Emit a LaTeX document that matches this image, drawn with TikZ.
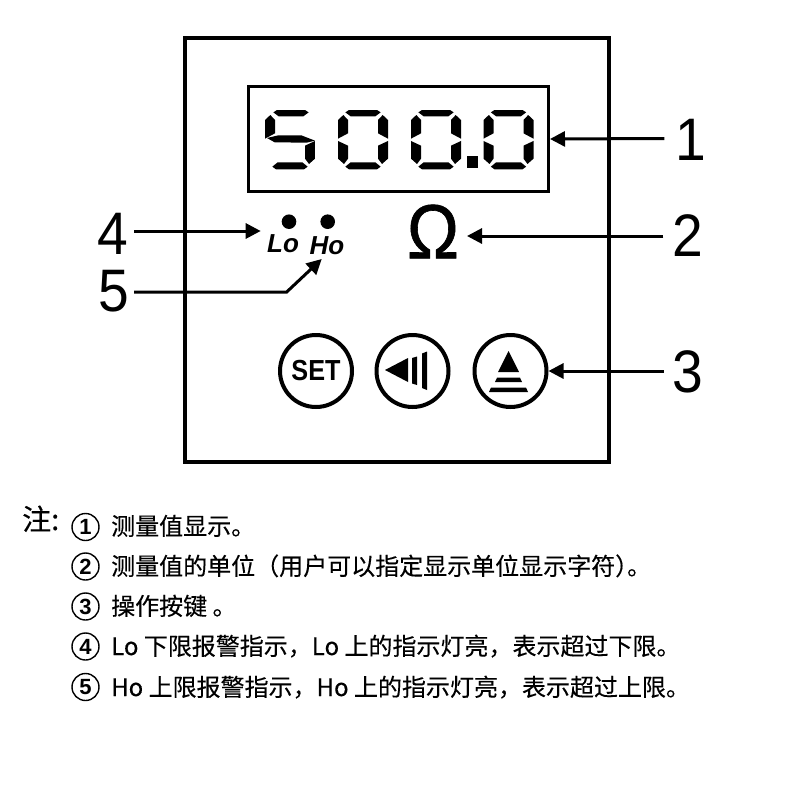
\documentclass[tikz,border=0pt]{standalone}
\usepackage{fontspec}
\usepackage{graphicx}
\usetikzlibrary{arrows.meta}
\setmainfont{Liberation Sans}
\newfontfamily\cjk[FakeBold=0.25]{Noto Sans CJK SC}
\newfontfamily\heavysans[FakeBold=0.8]{Liberation Sans}
\newcommand{\segT}[1]{\fill (#1+33,0)--(#1+117,0)--(#1+128,7)--(#1+112,19)--(#1+38,19)--(#1+22,7)--cycle;}
\newcommand{\segUL}{\fill (16,15)--(30,30)--(30,70)--(0,86)--(0,30)--cycle;}
\newcommand{\segLL}{\fill (0,93)--(30,107)--(30,146)--(18,162)--(0,146)--cycle;}
\newcommand{\segUR}{\fill (134,15)--(120,30)--(120,70)--(150,86)--(150,30)--cycle;}
\newcommand{\segLR}{\fill (150,93)--(120,107)--(120,146)--(132,162)--(150,146)--cycle;}
\newcommand{\segB}{\fill (38,157)--(112,157)--(128,170)--(117,178)--(33,178)--(22,170)--cycle;}
\newcommand{\segM}{\fill (6,84)--(40,76)--(109,76)--(150,92)--(125,98)--(29,97)--cycle;}
\newcommand{\digitzero}{\segT{0}\segUL\segLL\segUR\segLR\segB}
\newcommand{\callnum}[1]{\scalebox{.92}[1]{#1}}
\tikzset{
  unitpx/.style={x=1pt,y=-1pt},
  segdigit/.style={x=.3333pt,y=-.3333pt},
  arr/.style={line width=3pt,-{Triangle[length=15pt,width=15pt]}},
  callout/.style={font=\fontsize{60}{60}\selectfont,inner ysep=0pt,inner xsep=#1,text height=43pt,text depth=0pt},
  keybtn/.style={circle,draw,line width=4pt,minimum size=72pt,inner sep=0pt},
  lamp/.style={fill,circle,inner sep=0pt,minimum size=14.6pt},
  lamptext/.style={font=\fontsize{26}{26}\selectfont\bfseries\itshape,inner sep=0pt,anchor=base},
  circnum/.style={circle,draw,line width=1.4pt,minimum size=27pt,inner sep=0pt,font=\fontsize{22}{22}\selectfont\bfseries},
  notetext/.style={font=\cjk\fontsize{24}{24}\selectfont,inner sep=0pt,anchor=base west},
}
\begin{document}
\begin{tikzpicture}[unitpx]
\useasboundingbox (0,0) rectangle (800,800);
\fill[white] (0,0) rectangle (800,800);
% panel frame
\node[draw,line width=4pt,minimum width=424pt,minimum height=423pt,inner sep=0pt] (panel) at (396.5,250) {};
\node[draw,line width=3pt,minimum width=300pt,minimum height=105pt,inner sep=0pt] (disp) at (398.5,139) {};
% digits
\begin{scope}[shift={(265,110)},segdigit]
\segT{3}\segUL\segM\segLR\segB
\end{scope}
\begin{scope}[shift={(338,110)},segdigit]\digitzero\end{scope}
\begin{scope}[shift={(411,110)},segdigit]\digitzero\end{scope}
\begin{scope}[shift={(483.5,110)},segdigit]\digitzero\end{scope}
\fill (467,156) rectangle (478,168);
% lamps
\node[lamp] (lolamp) at (289,221.7) {};
\node[lamp] (holamp) at (327.7,221.7) {};
\node[lamptext] (lo) at (283,252) {Lo};
\node[lamptext] (ho) at (327,254) {Ho};
% omega
\node[inner sep=0pt] (om) at (433,231.5) {\scalebox{1}[1.1]{\heavysans\fontsize{70}{70}\selectfont Ω}};
% buttons
\node[keybtn] (setbtn) at (316,371) {\scalebox{.87}[1]{\fontsize{29}{29}\selectfont\bfseries SET}};
\node[keybtn] (leftbtn) at (412.5,371) {};
\node[keybtn] (upbtn) at (510.5,371) {};
\fill (385,370)--(408,358)--(408,382)--cycle;
\fill (412,358)--(417,356.5)--(417,385)--(412,383.5)--cycle;
\fill (422,353.5)--(427,351.5)--(427,390)--(422,388)--cycle;
\fill (508.5,351)--(519,372)--(498,372)--cycle;
\fill (497,377.7)--(520,377.7)--(522,382)--(495,382)--cycle;
\fill (491,387.5)--(526,387.5)--(528,392)--(489,392)--cycle;
% callout numbers
\node[callout=11pt] (n1) at (691,138.5) {\callnum{1}};
\node[callout=9pt] (n2) at (688,235) {\callnum{2}};
\node[callout=8.5pt] (n3) at (688,371) {\callnum{3}};
\node[callout=5.5pt] (n4) at (113,233) {\callnum{4}};
\node[callout=4.5pt] (n5) at (114,290) {\callnum{5}};
% targets
\coordinate (omtip) at (467,236);
\coordinate (lotip) at (260.7,231);
\coordinate (hotip) at (321.7,259);
\coordinate (knee) at (286.7,292);
\draw[arr] (n1.west) -- (disp.east);
\draw[arr] (n2.west |- omtip) -- (omtip);
\draw[arr] (n3.west) -- (upbtn.east);
\draw[arr] (n4.east |- lotip) -- (lotip);
\draw[arr] (n5.east |- knee) -- (knee) -- (hotip);
% notes
\node[inner sep=0pt,anchor=base west,font=\cjk\fontsize{29}{29}\selectfont] (zhu) at (22,530) {注:};
\node[circnum] (c1) at (85.5,527) {1};
\node[circnum] (c2) at (85.5,566.5) {2};
\node[circnum] (c3) at (85.5,606.5) {3};
\node[circnum] (c4) at (85.5,646.5) {4};
\node[circnum] (c5) at (85.5,687) {5};
\node[notetext] (t1) at (111,535) {测量值显示。};
\node[notetext] (t2) at (111,575) {测量值的单位（用户可以指定显示单位显示字符\makebox[12pt][l]{）}。};
\node[notetext] (t3) at (111,615) {操作按键 。};
\node[notetext] (t4) at (111,655) {Lo 下限报警指示，Lo 上的指示灯亮，表示超过下限。};
\node[notetext] (t5) at (111,696) {Ho 上限报警指示，Ho 上的指示灯亮，表示超过上限。};
\end{tikzpicture}
\end{document}
